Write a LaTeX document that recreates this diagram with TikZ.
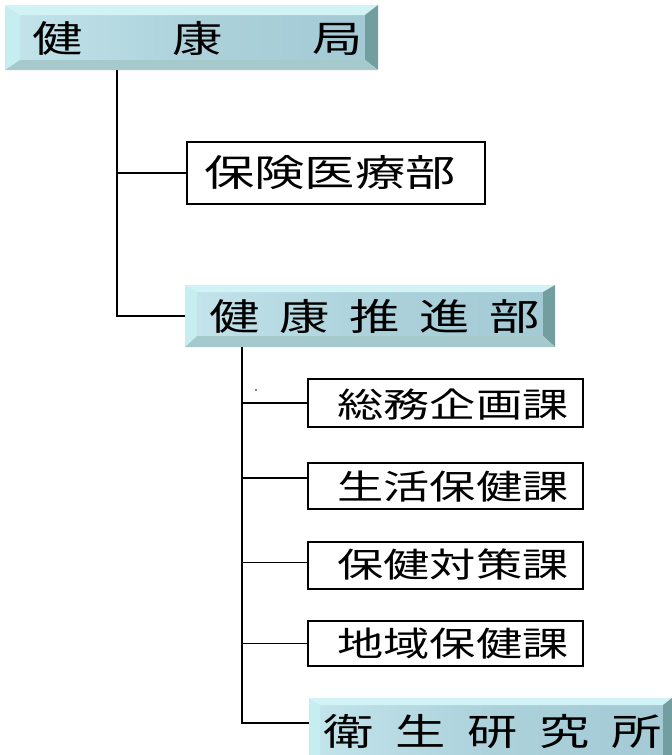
\documentclass[tikz,border=0pt]{standalone}
\usepackage{fontspec}
\newfontfamily\jp[FakeStretch=1.36]{Noto Sans CJK JP}
\definecolor{bvT}{HTML}{D2F3F6}
\definecolor{bvL}{HTML}{C6EEF1}
\definecolor{bvR}{HTML}{739E9F}
\definecolor{bvB}{HTML}{A6CACC}
\definecolor{bvF1}{HTML}{C2E3EA}
\definecolor{bvF2}{HTML}{A3CAD5}
\newcommand\bevelpaint[5]{%
  \shade[left color=bvF1, right color=bvF2, middle color=bvF2!70!bvF1]
    ([shift={(#2,#3)}]#1.north west) rectangle ([shift={(-#4,-#5)}]#1.south east);
  \fill[bvT] (#1.north west) -- (#1.north east) -- ([shift={(-#4,#3)}]#1.north east) -- ([shift={(#2,#3)}]#1.north west) -- cycle;
  \fill[bvL] (#1.north west) -- ([shift={(#2,#3)}]#1.north west) -- ([shift={(#2,-#5)}]#1.south west) -- (#1.south west) -- cycle;
  \fill[bvR] (#1.north east) -- (#1.south east) -- ([shift={(-#4,-#5)}]#1.south east) -- ([shift={(-#4,#3)}]#1.north east) -- cycle;
  \fill[bvB] (#1.south west) -- (#1.south east) -- ([shift={(-#4,-#5)}]#1.south east) -- ([shift={(#2,-#5)}]#1.south west) -- cycle;
}
\begin{document}
\begin{tikzpicture}[x=1pt,y=-1pt,
  bvnode/.style={rectangle, inner sep=0pt, outer sep=0pt},
  plainbox/.style={draw=black, line width=1.6pt, rectangle, inner sep=0pt, outer sep=0pt, fill=white},
  conn/.style={line width=1.4pt, line cap=butt},
  bigtext/.style={font=\jp\fontsize{37}{40}\selectfont, inner sep=0pt},
  smalltext/.style={font=\jp\fontsize{34}{37}\selectfont, inner sep=0pt}]
\useasboundingbox (0,0) rectangle (672,755);
\clip (0,0) rectangle (672,755);

% bevel boxes
\node[bvnode, minimum width=373pt, minimum height=65pt] (kyoku) at (191.5,37.5) {};
\bevelpaint{kyoku}{15}{10}{13}{10}
\node[bvnode, minimum width=370pt, minimum height=62pt] (suishin) at (370,316) {};
\bevelpaint{suishin}{12}{7}{12}{11}
\node[bvnode, minimum width=363pt, minimum height=67pt] (eisei) at (490.5,731.5) {};
\bevelpaint{eisei}{11}{7}{9}{10}

% plain boxes
\node[plainbox, minimum width=298pt, minimum height=62pt] (hoken) at (336,173) {};
\node[plainbox, minimum width=275pt, minimum height=48pt] (k1) at (445.5,403) {};
\node[plainbox, minimum width=275pt, minimum height=46pt] (k2) at (445.5,486) {};
\node[plainbox, minimum width=275pt, minimum height=47pt] (k3) at (445.5,565.5) {};
\node[plainbox, minimum width=275pt, minimum height=45pt] (k4) at (445.5,643.5) {};

% texts
\node[bigtext] (kyokut) at (198,39) {\makebox[140pt]{健}\makebox[140pt]{康}\makebox[140pt]{局}};
\node[bigtext] (suishint) at (375,316) {\makebox[70pt]{健}\makebox[70pt]{康}\makebox[70pt]{推}\makebox[70pt]{進}\makebox[70pt]{部}};
\node[bigtext] (eiseit) at (493,731) {\makebox[72pt]{衛}\makebox[72pt]{生}\makebox[72pt]{研}\makebox[72pt]{究}\makebox[72pt]{所}};
\node[bigtext] (hokent) at (330,173) {保険医療部};
\node[smalltext] (k1t) at (453,405) {総務企画課};
\node[smalltext] (k2t) at (453,487) {生活保健課};
\node[smalltext] (k3t) at (453,565) {保健対策課};
\node[smalltext] (k4t) at (453,644) {地域保健課};

% connectors
\coordinate (tr1) at (117,70);
\coordinate (tr2) at (242,347);
\draw[conn] (tr1) |- (hoken.west);
\draw[conn] (tr1) |- (suishin.west);
\draw[conn] (tr2) |- (k1.west);
\draw[conn] (tr2) |- ([yshift=8pt]k2.west);
\draw[conn] (tr2) |- ([yshift=3pt]k3.west);
\draw[conn] (tr2) |- (k4.west);
\draw[conn] (tr2) |- ([yshift=8.5pt]eisei.west);

% stray dot
\fill (256,390) circle (0.9pt);
\end{tikzpicture}
\end{document}
